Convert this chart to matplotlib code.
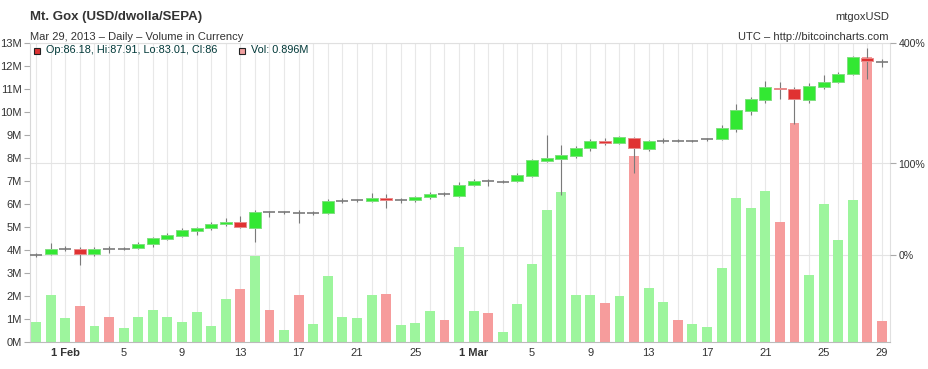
import numpy as np
import matplotlib
matplotlib.use('Agg')
import matplotlib.pyplot as plt
import matplotlib.transforms as mtransforms
from matplotlib.patches import Rectangle
from matplotlib.ticker import NullLocator

plt.rcParams['font.family'] = ['Liberation Sans', 'DejaVu Sans']

# daily Mt.Gox data, Jan 30 .. Mar 29 2013
dates = ['Jan 30', 'Jan 31', 'Feb 1', 'Feb 2', 'Feb 3', 'Feb 4', 'Feb 5', 'Feb 6',
         'Feb 7', 'Feb 8', 'Feb 9', 'Feb 10', 'Feb 11', 'Feb 12', 'Feb 13', 'Feb 14',
         'Feb 15', 'Feb 16', 'Feb 17', 'Feb 18', 'Feb 19', 'Feb 20', 'Feb 21', 'Feb 22',
         'Feb 23', 'Feb 24', 'Feb 25', 'Feb 26', 'Feb 27', 'Feb 28', 'Mar 1', 'Mar 2',
         'Mar 3', 'Mar 4', 'Mar 5', 'Mar 6', 'Mar 7', 'Mar 8', 'Mar 9', 'Mar 10',
         'Mar 11', 'Mar 12', 'Mar 13', 'Mar 14', 'Mar 15', 'Mar 16', 'Mar 17', 'Mar 18',
         'Mar 19', 'Mar 20', 'Mar 21', 'Mar 22', 'Mar 23', 'Mar 24', 'Mar 25', 'Mar 26',
         'Mar 27', 'Mar 28', 'Mar 29']
opens = [19.72, 19.86, 20.71, 20.73, 19.86, 20.75, 20.66, 20.79, 21.48, 22.37, 22.88,
         23.77, 24.21, 24.96, 25.34, 24.32, 27.43, 27.40, 27.29, 27.19, 27.14, 29.85,
         29.95, 29.87, 30.43, 30.01, 30.03, 30.66, 31.39, 31.03, 33.59, 34.65, 34.51,
         34.63, 36.14, 40.52, 41.14, 42.09, 44.73, 46.97, 46.26, 48.27, 44.19, 47.16,
         47.20, 47.16, 47.55, 47.69, 51.70, 59.30, 64.33, 70.65, 69.79, 64.48, 71.19,
         73.62, 78.24, 88.79, 86.18]
highs = [20.01, 21.60, 21.16, 21.04, 20.95, 21.16, 20.95, 21.76, 22.71, 23.31, 24.21,
         24.51, 25.34, 26.13, 26.59, 27.83, 27.62, 27.68, 27.83, 27.56, 30.20, 30.43,
         30.20, 31.61, 31.44, 30.56, 30.96, 31.92, 31.85, 34.53, 35.16, 35.16, 34.98,
         36.81, 41.14, 49.28, 45.66, 45.42, 47.80, 48.05, 48.90, 48.40, 47.44, 48.05,
         47.80, 47.56, 48.17, 53.18, 62.26, 65.97, 74.52, 73.62, 71.19, 73.06, 78.00,
         79.45, 89.94, 95.38, 87.91]
lows = [19.50, 19.83, 20.41, 18.26, 19.60, 20.10, 20.47, 20.68, 20.95, 22.15, 22.71,
        23.00, 23.90, 24.69, 24.21, 21.86, 26.33, 27.00, 25.15, 26.79, 26.93, 29.29,
        29.65, 29.65, 28.32, 29.29, 29.65, 30.33, 31.05, 30.80, 33.41, 33.41, 34.18,
        34.37, 35.87, 40.21, 31.20, 41.26, 43.72, 45.56, 46.01, 36.81, 43.72, 46.26,
        46.61, 46.85, 47.18, 47.44, 50.53, 57.38, 63.02, 64.82, 53.46, 62.73, 69.79,
        73.06, 77.83, 75.31, 83.01]
closes = [19.75, 20.63, 20.73, 19.86, 20.73, 20.72, 20.68, 21.48, 22.43, 23.06, 23.90,
          24.27, 25.02, 25.46, 24.40, 27.41, 27.40, 27.42, 27.26, 27.21, 29.74, 29.87,
          29.97, 30.43, 29.97, 30.03, 30.66, 31.51, 31.36, 33.59, 34.71, 34.62, 34.53,
          36.25, 40.64, 41.36, 42.32, 44.53, 47.08, 46.26, 48.42, 44.63, 46.97, 47.18,
          47.17, 47.18, 47.69, 51.86, 59.48, 64.67, 70.87, 69.79, 64.67, 71.41, 73.62,
          78.42, 89.26, 86.38, 86.00]
volumes_m = [0.87, 2.05, 1.05, 1.57, 0.70, 1.10, 0.63, 1.10, 1.40, 1.10, 0.87, 1.31,
             0.70, 1.89, 2.31, 3.75, 1.40, 0.52, 2.05, 0.80, 2.85, 1.10, 1.06, 2.05,
             2.09, 0.76, 0.84, 1.35, 0.96, 4.14, 1.35, 1.26, 0.44, 1.66, 3.40, 5.76,
             6.51, 2.05, 2.05, 1.70, 1.98, 8.08, 2.33, 1.74, 0.96, 0.80, 0.67, 3.23,
             6.24, 5.82, 6.55, 5.21, 9.52, 2.92, 6.00, 4.42, 6.16, 12.41, 0.896]

base_price = 19.83  # price shown as 0% on the right axis
pct_ticks = [0, 100, 400]
x_tick_idx = [2, 6, 10, 14, 18, 22, 26, 30, 34, 38, 42, 46, 50, 54, 58]
x_tick_labels = ['1 Feb', '5', '9', '13', '17', '21', '25', '1 Mar', '5', '9', '13',
                 '17', '21', '25', '29']

W, H = 929, 369
fig = plt.figure(figsize=(W / 100, H / 100), dpi=100, facecolor='white')
ax = fig.add_axes([30 / W, 27 / H, 860 / W, 299 / H])
ax2 = ax.twinx()

x = np.arange(len(dates))
o = np.array(opens)
c = np.array(closes)
up = c >= o

# volume bars
vol_colors = np.where(up, '#9df59d', '#f69c9c')
ax.bar(x, volumes_m, width=0.68, color=vol_colors, zorder=2)
ax.set_xlim(-0.42, len(dates) - 0.45)
ax.set_ylim(0, 13)
ax.set_yticks(range(0, 14))
ax.set_yticklabels([f'{v}M' for v in range(0, 14)])
ax.set_xticks(x_tick_idx)
ax.set_xticklabels(x_tick_labels)
for lbl in ax.get_xticklabels():
    if ' ' in lbl.get_text():
        lbl.set_fontweight('bold')
ax.set_xticks(x, minor=True)
ax.grid(True, axis='x', which='both', color='#e8e8e8', lw=0.8, zorder=0)
ax.set_axisbelow(True)
ax.tick_params(axis='x', which='both', length=0, pad=4, labelsize=8, colors='#333333')
ax.tick_params(axis='y', length=4, width=0.8, color='#aaaaaa', pad=2, labelsize=8,
               labelcolor='#333333')
for side, col in [('left', '#d8d8d8'), ('top', '#e0e0e0'), ('right', '#e0e0e0'),
                  ('bottom', '#bbbbbb')]:
    ax.spines[side].set_color(col)

# price candles on log scale
ax2.set_yscale('log')
ax2.set_ylim(base_price * 2 ** (-87.5 / 91), base_price * 2 ** (211.5 / 91))
pct_prices = [base_price * (1 + p / 100) for p in pct_ticks]
ax2.set_yticks(pct_prices)
ax2.set_yticklabels([f'{p}%' for p in pct_ticks])
ax2.yaxis.set_minor_locator(NullLocator())
ax2.tick_params(axis='y', length=4, width=0.8, color='#aaaaaa', pad=2, labelsize=7.6,
                labelcolor='#333333')
for s in ax2.spines.values():
    s.set_visible(False)

# horizontal grid lines at the percent ticks, behind everything
blend = mtransforms.blended_transform_factory(ax.transAxes, ax2.transData)
for p in pct_prices:
    ax.plot([0, 1], [p, p], transform=blend, color='#e4e4e4', lw=0.8, zorder=1)

ax2.vlines(x, lows, highs, color='#7a7a7a', lw=0.8, zorder=3)
body_w = 0.82
small = np.abs(c - o) / o < 0.005
big = ~small
body_col = np.where(up, '#33e833', '#e03232')
edge_col = np.where(up, '#80df80', '#e88a8a')
ax2.bar(x[big], np.abs(c - o)[big], bottom=np.minimum(o, c)[big], width=body_w,
        color=body_col[big], edgecolor=edge_col[big], lw=0.7, zorder=4)
ax2.hlines(((o + c) / 2)[small], x[small] - body_w / 2, x[small] + body_w / 2,
           color='#7a7a7a', lw=1.2, zorder=4)

# header texts
fig.text(30 / W, 1 - 17 / H, 'Mt. Gox (USD/dwolla/SEPA)', fontsize=9.5,
         fontweight='bold', color='#333333', va='center')
fig.text(30 / W, 1 - 37 / H, 'Mar 29, 2013 \u2013 Daily \u2013 Volume in Currency',
         fontsize=8, color='#333333', va='center')
fig.text(889 / W, 1 - 17 / H, 'mtgoxUSD', fontsize=8, color='#333333',
         va='center', ha='right')
fig.text(889 / W, 1 - 37 / H, 'UTC \u2013 http://bitcoincharts.com', fontsize=8,
         color='#333333', va='center', ha='right')

# legend line inside the plot
last = len(dates) - 1
fig.add_artist(Rectangle((34 / W, 1 - 53.5 / H), 6 / W, 6 / H, transform=fig.transFigure,
                         facecolor='#dd3333', edgecolor='#222222', lw=0.8))
fig.text(46 / W, 1 - 50 / H,
         f'Op:{opens[last]:g}, Hi:{highs[last]:g}, Lo:{lows[last]:g}, Cl:{closes[last]:g}',
         fontsize=7.8, color='#003838', va='center')
fig.add_artist(Rectangle((239 / W, 1 - 53.5 / H), 6 / W, 6 / H, transform=fig.transFigure,
                         facecolor='#f0a0a0', edgecolor='#222222', lw=0.8))
fig.text(251 / W, 1 - 50 / H, f'Vol: {volumes_m[last]:g}M', fontsize=7.8,
         color='#003838', va='center')

fig.savefig('out.png', dpi=100, facecolor='white')
